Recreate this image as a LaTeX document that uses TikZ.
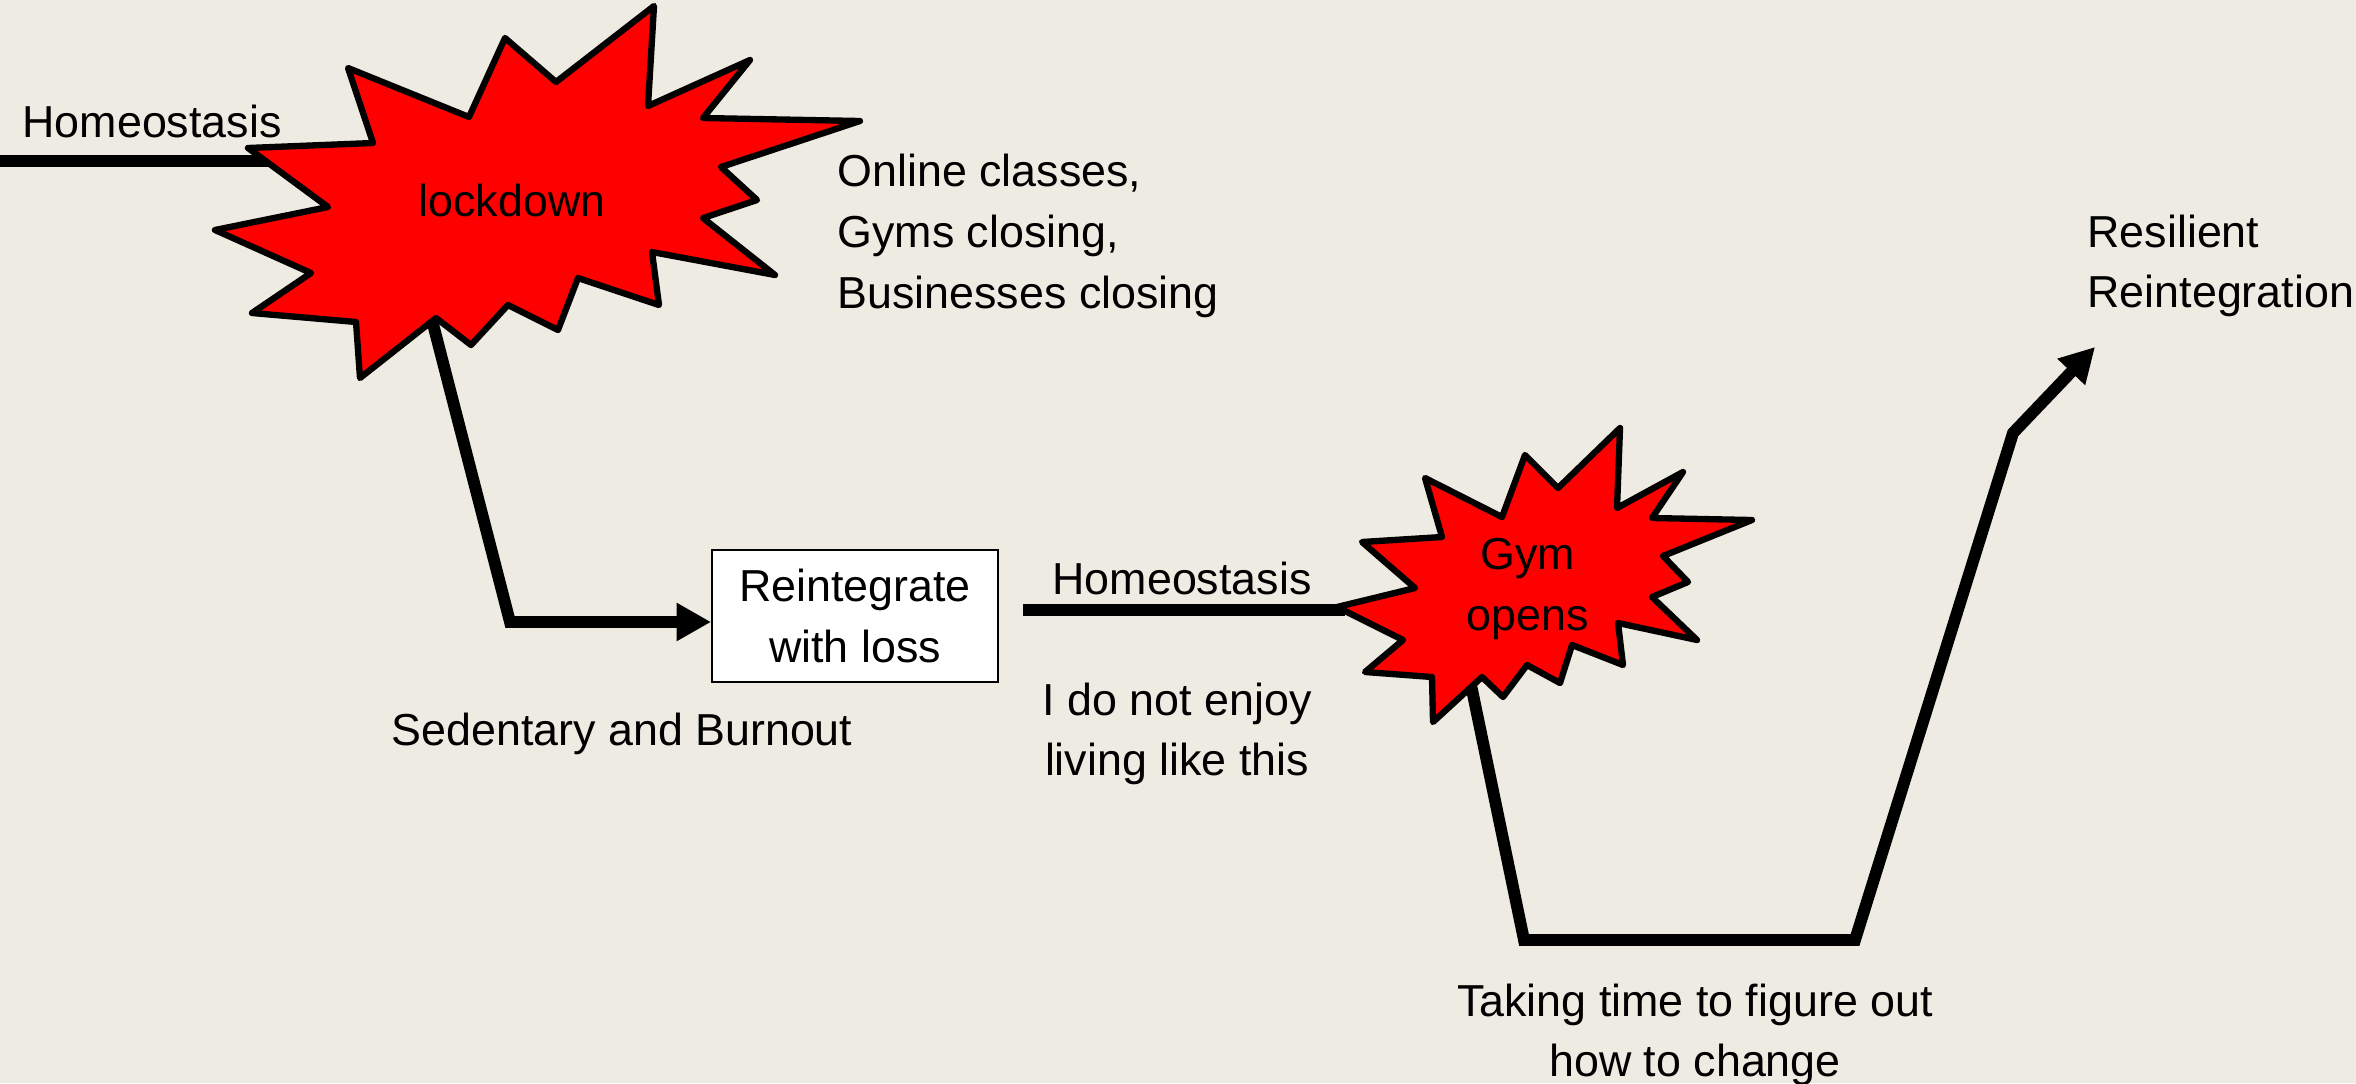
\documentclass[tikz,border=0pt]{standalone}
\usepackage{fontspec}
\setmainfont{Liberation Sans}
\usetikzlibrary{arrows.meta,positioning}
\definecolor{paper}{RGB}{238,235,227}

\begin{document}
\begin{tikzpicture}[
  x=0.013333cm, y=-0.013333cm,
  font=\fontsize{17}{23}\selectfont,
  >={Triangle[length=0.46cm, width=0.48cm]},
  lbl/.style={inner sep=0pt, align=left},
  burst/.style={draw=black, fill=red, line width=2.4pt, line join=round},
  box/.style={draw, fill=white, line width=0.8pt, minimum width=3.81cm, minimum height=1.76cm, align=center, inner sep=2pt},
  flow/.style={line width=4.5pt, line join=miter}
]
\useasboundingbox[fill=paper] (0,0) rectangle (2356,1083);

% level lines and legs, under the bursts
\coordinate (homestart) at (0,161);
\coordinate (homeend) at (275,161);
\coordinate (lockout) at (432,320);
\coordinate (lockfoot) at (510,622);
\coordinate (gymin) at (1023,610);
\coordinate (gymedge) at (1345,610);
\coordinate (gymout) at (1470,680);
\coordinate (lowleft) at (1524,940);
\coordinate (lowright) at (1855,940);
\coordinate (climb) at (2013,433);
\coordinate (resil) at (2095,347);

\node[box] (reint) at (855,616) {Reintegrate\\with loss};

\draw[flow] (homestart) -- (homeend);
\draw[flow, ->] (lockout) -- (lockfoot) -- (lockfoot -| reint.west);
\draw[flow] (gymin) -- (gymedge);
\draw[flow, ->] (gymout) -- (lowleft) -- (lowright) -- (climb) -- (resil);

% lockdown burst
\draw[burst] (248,148) -- (373,143) -- (348,68) -- (469,117) -- (505,38) -- (556,82)
  -- (654,6) -- (648,106) -- (750,60) -- (703,118) -- (860,121) -- (721,167)
  -- (757,200) -- (703,218) -- (775,275) -- (652,252) -- (659,305) -- (578,278)
  -- (558,330) -- (508,305) -- (471,345) -- (436,318) -- (360,378) -- (356,322)
  -- (252,313) -- (311,273) -- (215,230) -- (328,207) -- cycle;

% gym burst
\draw[burst] (1337,607) -- (1415,588) -- (1362,542) -- (1442,537) -- (1425,478) -- (1502,517)
  -- (1525,455) -- (1558,488) -- (1620,428) -- (1617,508) -- (1683,472) -- (1652,518)
  -- (1752,520) -- (1663,556) -- (1688,582) -- (1652,597) -- (1697,640) -- (1618,623)
  -- (1623,665) -- (1572,645) -- (1560,683) -- (1527,665) -- (1503,697) -- (1482,677)
  -- (1433,722) -- (1432,677) -- (1365,672) -- (1403,640) -- cycle;

% texts
\node[lbl, anchor=west] (home1) at (22,121) {Homeostasis};
\node[lbl] (lockdown) at (512,200) {lockdown};
\node[lbl, anchor=west] (effects) at (837,236) {Online classes,\\Gyms closing,\\Businesses closing};
\node[lbl] (sedentary) at (622,734) {Sedentary and Burnout};
\node[lbl] (home2) at (1182,578) {Homeostasis};
\node[lbl, align=center] (enjoy) at (1177,734) {I do not enjoy\\living like this};
\node[lbl, align=center] (gym) at (1528,589) {Gym\\opens};
\node[lbl, align=center] (figure) at (1695,1035) {Taking time to figure out\\how to change};
\node[lbl, anchor=west] (resilient) at (2087,266) {Resilient\\Reintegration};
\end{tikzpicture}
\end{document}
